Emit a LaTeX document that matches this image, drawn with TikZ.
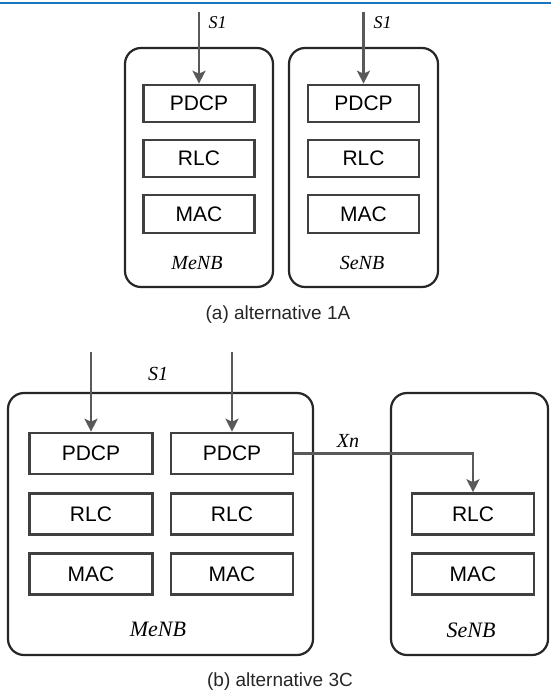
\documentclass[tikz,border=0pt]{standalone}
\usepackage{fontspec}
\setmainfont{Liberation Serif}
\setsansfont{Liberation Sans}
\usetikzlibrary{arrows.meta}
\definecolor{topblue}{RGB}{28,117,188}

\begin{document}
\begin{tikzpicture}[x=1pt,y=-1pt,
  enb/.style={draw=black!85,line width=2.2pt,rounded corners=16pt},
  layer/.style={draw=black!75,line width=2.6pt,inner sep=0pt,font=\sffamily\fontsize{21}{21}\selectfont},
  iface/.style={draw=black!65,line width=2.2pt,-{Stealth[length=13pt,width=13pt,inset=3pt]}},
  lbl/.style={font=\itshape\fontsize{20}{20}\selectfont},
  caption/.style={font=\sffamily\fontsize{19}{19}\selectfont,text=black!85}]
  \useasboundingbox (0,0) rectangle (551,692);
  \draw[topblue,line width=1.8pt] (0,3) -- (551,3);

  % (a) alternative 1A
  \draw[enb] (125,48) rectangle (273,287);
  \draw[enb] (289,48) rectangle (438,287);
  \node[layer,minimum width=111pt,minimum height=37pt] (pdcpA) at (199,103.5) {PDCP};
  \node[layer,minimum width=111pt,minimum height=37pt] (rlcA) at (199,158.5) {RLC};
  \node[layer,minimum width=111pt,minimum height=38pt] (macA) at (199,214) {MAC};
  \node[layer,minimum width=111pt,minimum height=37pt] (pdcpSA) at (363.5,103.5) {PDCP};
  \node[layer,minimum width=111pt,minimum height=37pt] (rlcSA) at (363.5,158.5) {RLC};
  \node[layer,minimum width=111pt,minimum height=38pt] (macSA) at (363.5,214) {MAC};
  \node[lbl] (menbA) at (197,263) {MeNB};
  \node[lbl] (senbA) at (362,263) {SeNB};
  \coordinate (s1A) at (199,12);
  \coordinate (s1SA) at (363.5,12);
  \draw[iface] (s1A) -- (pdcpA.north);
  \draw[iface] (s1SA) -- (pdcpSA.north);
  \node[lbl,font=\itshape\fontsize{18}{18}\selectfont,anchor=west] (s1labA) at (205,23) {S1};
  \node[lbl,font=\itshape\fontsize{18}{18}\selectfont,anchor=west] (s1labSA) at (370,23) {S1};
  \node[caption] (capA) at (278,315) {(a) alternative 1A};

  % (b) alternative 3C
  \draw[enb] (8,393) rectangle (313,655);
  \draw[enb] (391,393) rectangle (548,655);
  \node[layer,minimum width=123pt,minimum height=41pt] (pdcpL) at (91,453.5) {PDCP};
  \node[layer,minimum width=123pt,minimum height=41pt] (rlcL) at (91,514) {RLC};
  \node[layer,minimum width=123pt,minimum height=41pt] (macL) at (91,574) {MAC};
  \node[layer,minimum width=122pt,minimum height=41pt] (pdcpR) at (232,453.5) {PDCP};
  \node[layer,minimum width=122pt,minimum height=41pt] (rlcR) at (232,514) {RLC};
  \node[layer,minimum width=122pt,minimum height=41pt] (macR) at (232,574) {MAC};
  \node[layer,minimum width=122pt,minimum height=41pt] (rlcS) at (473,514) {RLC};
  \node[layer,minimum width=122pt,minimum height=41pt] (macS) at (473,574) {MAC};
  \coordinate (s1L) at (91,352);
  \coordinate (s1R) at (232,352);
  \draw[iface] (s1L) -- (pdcpL.north);
  \draw[iface] (s1R) -- (pdcpR.north);
  \draw[iface] (pdcpR.east) -| (rlcS.north);
  \node[lbl] (s1lab) at (158,374) {S1};
  \node[lbl] (xnlab) at (348,441) {Xn};
  \node[lbl,font=\itshape\fontsize{22}{22}\selectfont] (menbB) at (158,629) {MeNB};
  \node[lbl,font=\itshape\fontsize{22}{22}\selectfont] (senbB) at (471,630) {SeNB};
  \node[caption] (capB) at (280,682) {(b) alternative 3C};
\end{tikzpicture}
\end{document}
